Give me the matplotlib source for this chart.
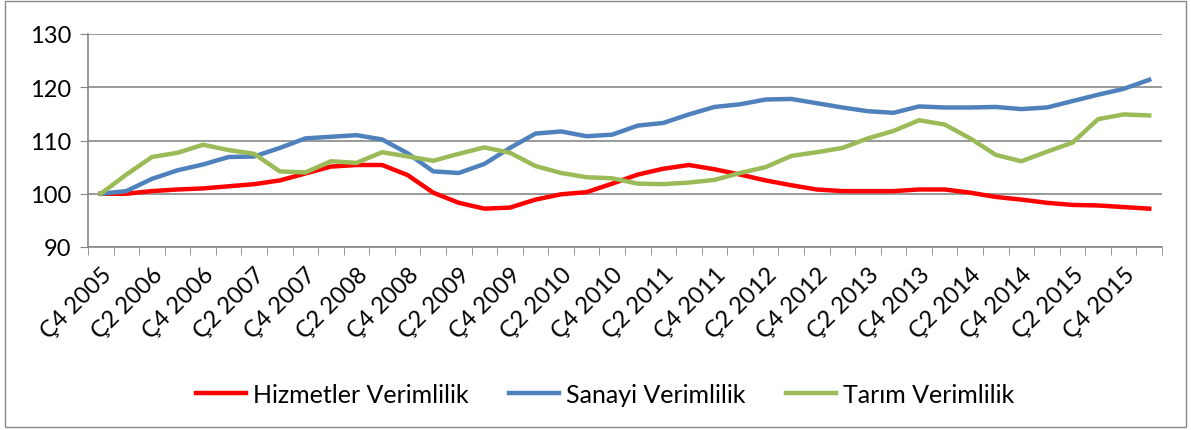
import numpy as np
import matplotlib
matplotlib.use("Agg")
import matplotlib.pyplot as plt
from matplotlib.patches import Rectangle

plt.rcParams['font.family'] = ['Lato', 'DejaVu Sans']

# quarters from Ç4 2005 to Ç1 2016 (42 points, every other one labelled)
quarters = ["Ç4 2005"]
for yr in range(2006, 2016):
    for q in range(1, 5):
        quarters.append("Ç%d %d" % (q, yr))
quarters.append("Ç1 2016")

hizmetler = [100.0, 100.0, 100.5, 100.8, 101.0, 101.4, 101.8, 102.5, 103.8, 105.1,
             105.4, 105.4, 103.5, 100.2, 98.3, 97.2, 97.4, 98.9, 99.9, 100.3,
             101.9, 103.6, 104.7, 105.4, 104.6, 103.6, 102.5, 101.6, 100.8, 100.5,
             100.5, 100.5, 100.8, 100.8, 100.2, 99.4, 98.9, 98.3, 97.9, 97.8,
             97.5, 97.2]
sanayi = [100.0, 100.5, 102.8, 104.4, 105.5, 106.9, 107.0, 108.6, 110.4, 110.7,
          111.0, 110.2, 107.6, 104.2, 103.9, 105.6, 108.6, 111.3, 111.7, 110.8,
          111.1, 112.8, 113.3, 114.9, 116.3, 116.8, 117.7, 117.8, 117.0, 116.2,
          115.5, 115.2, 116.4, 116.2, 116.2, 116.3, 115.9, 116.2, 117.4, 118.6,
          119.7, 121.4]
tarim = [100.0, 103.6, 106.9, 107.7, 109.2, 108.2, 107.5, 104.2, 104.0, 106.1,
         105.8, 107.8, 107.0, 106.2, 107.5, 108.7, 107.7, 105.2, 103.9, 103.1,
         102.9, 101.9, 101.8, 102.1, 102.6, 103.9, 105.0, 107.1, 107.8, 108.6,
         110.4, 111.8, 113.8, 113.0, 110.4, 107.3, 106.1, 107.9, 109.6, 114.0,
         114.9, 114.7]

x = np.arange(len(quarters))
grid_c = "#878787"

fig = plt.figure(figsize=(11.91, 4.31), dpi=100)
ax = fig.add_axes([88 / 1191, 1 - 248 / 431, (1162 - 88) / 1191, (248 - 35) / 431])

ax.plot(x, hizmetler, color="#FF0000", lw=3.2, label="Hizmetler Verimlilik")
ax.plot(x, sanayi, color="#4F81BD", lw=3.2, label="Sanayi Verimlilik")
ax.plot(x, tarim, color="#9BBB59", lw=3.2, label="Tarım Verimlilik")

ax.set_xlim(-0.5, len(quarters) - 0.5)
ax.set_ylim(90, 130)
ax.set_yticks([90, 100, 110, 120, 130])
ax.yaxis.grid(True, color=grid_c, lw=1.2)
ax.set_axisbelow(True)

ax.set_xticks(x[::2])
ax.set_xticklabels(quarters[::2], rotation=45, ha="right", rotation_mode="anchor")
ax.set_xticks(np.arange(-0.5, len(quarters)), minor=True)
ax.tick_params(axis="x", which="major", length=0, pad=12, labelsize=17)
ax.tick_params(axis="x", which="minor", length=6, color=grid_c, direction="out")
ax.tick_params(axis="y", length=6, color=grid_c, labelsize=17, pad=6)

for s in ["top", "right"]:
    ax.spines[s].set_visible(False)
for s in ["left", "bottom"]:
    ax.spines[s].set_color(grid_c)
    ax.spines[s].set_linewidth(1.2)

fig.legend(loc="center", bbox_to_anchor=(0.508, 0.083), ncol=3, frameon=False,
           fontsize=18, handlelength=2.0, handletextpad=0.3, columnspacing=1.6)

fig.patches.append(Rectangle((5 / 1191, 3 / 431), 1181 / 1191, 426 / 431,
                             transform=fig.transFigure, fill=False,
                             edgecolor="#888888", lw=1))

fig.savefig("out.png", dpi=100)
